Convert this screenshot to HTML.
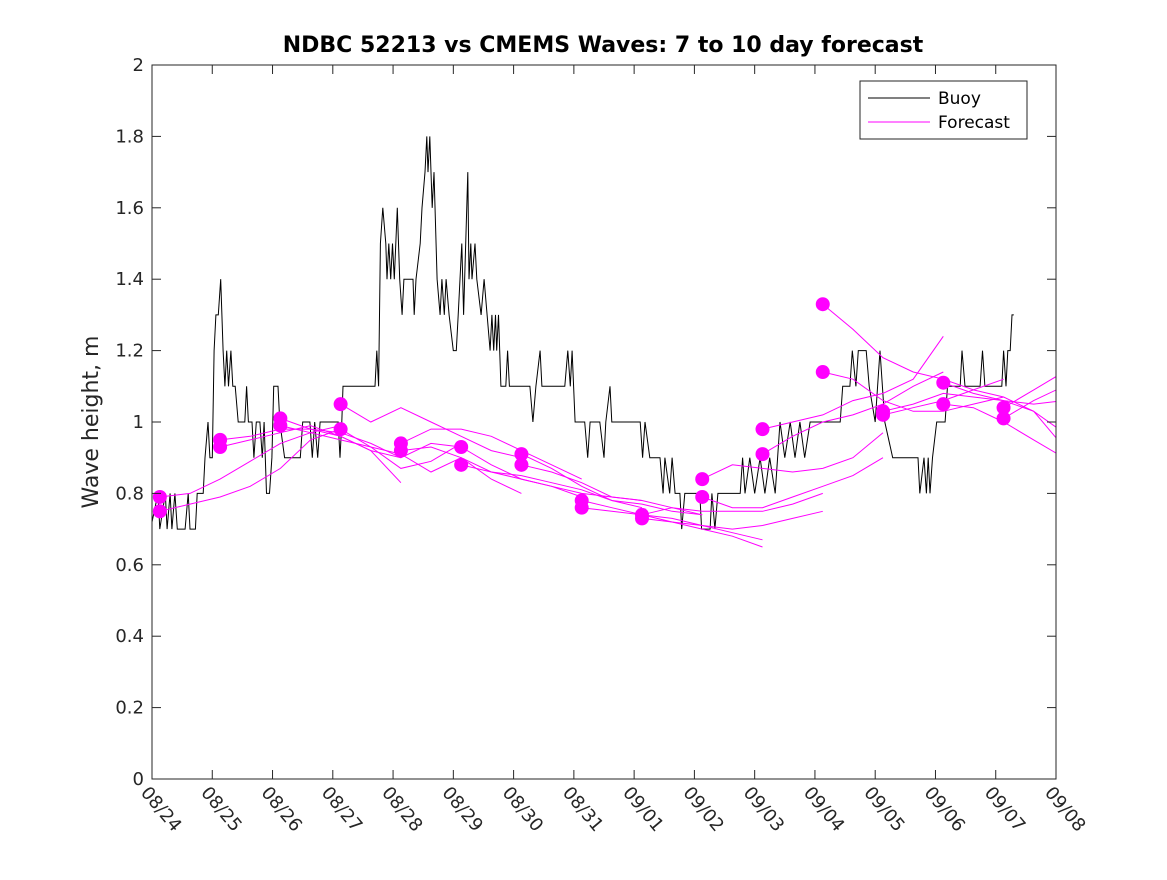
<!DOCTYPE html>
<html><head><meta charset="utf-8"><style>
body{margin:0;background:#fff}
svg{font-family:"DejaVu Sans","Liberation Sans",sans-serif}
</style></head><body>
<svg id="c" width="1167" height="875" viewBox="0 0 1167 875">
<rect width="1167" height="875" fill="#fff"/>
<rect x="152" y="65" width="904" height="714" fill="#fff"/>
<defs><clipPath id="clip"><rect x="152" y="65" width="904" height="714"/></clipPath></defs>
<g id="series" clip-path="url(#clip)"></g>
<rect x="152" y="65" width="904" height="714" fill="none" stroke="#262626" stroke-width="1"/>
<g id="axes"></g>
<text x="603" y="52" text-anchor="middle" font-size="22" font-weight="bold" fill="#000">NDBC 52213 vs CMEMS Waves: 7 to 10 day forecast</text>
<text transform="translate(98,422) rotate(-90)" text-anchor="middle" font-size="22" fill="#262626">Wave height, m</text>
<g>
<rect x="860" y="81" width="167" height="58" fill="#fff" stroke="#262626"/>
<line x1="868" y1="98" x2="930" y2="98" stroke="#000"/>
<text x="938" y="104" font-size="17" fill="#000">Buoy</text>
<line x1="868" y1="122" x2="930" y2="122" stroke="#f0f"/>
<text x="938" y="128" font-size="17" fill="#000">Forecast</text>
</g>
</svg>
<script>
const xTickLabels=["08/24","08/25","08/26","08/27","08/28","08/29","08/30","08/31","09/01","09/02","09/03","09/04","09/05","09/06","09/07","09/08"];
const yTicks=[0,0.2,0.4,0.6,0.8,1,1.2,1.4,1.6,1.8,2];
const buoyDays=[0,0.1,0.13,0.22,0.25,0.3,0.33,0.38,0.42,0.55,0.6,0.63,0.72,0.75,0.85,0.88,0.93,0.96,1.0,1.03,1.06,1.1,1.14,1.18,1.21,1.24,1.27,1.31,1.34,1.38,1.43,1.54,1.57,1.6,1.66,1.69,1.73,1.79,1.83,1.86,1.9,1.95,1.99,2.02,2.09,2.12,2.2,2.46,2.5,2.62,2.66,2.7,2.75,2.79,3.09,3.12,3.15,3.17,3.7,3.73,3.76,3.79,3.83,3.88,3.9,3.93,3.96,3.99,4.02,4.07,4.11,4.15,4.18,4.33,4.35,4.38,4.45,4.48,4.53,4.56,4.58,4.61,4.65,4.68,4.73,4.78,4.81,4.85,4.88,4.93,5.0,5.05,5.08,5.11,5.14,5.17,5.24,5.26,5.29,5.31,5.36,5.39,5.46,5.51,5.56,5.61,5.64,5.67,5.7,5.72,5.75,5.77,5.79,5.87,5.9,5.93,6.27,6.32,6.37,6.44,6.47,6.55,6.85,6.9,6.94,6.97,7.02,7.18,7.23,7.27,7.43,7.5,7.53,7.6,7.63,8.1,8.14,8.18,8.26,8.43,8.48,8.51,8.59,8.63,8.68,8.76,8.79,8.84,9.09,9.12,9.26,9.29,9.34,9.39,9.76,9.8,9.84,9.92,10.0,10.09,10.17,10.25,10.34,10.42,10.5,10.59,10.67,10.75,10.83,10.92,11.0,11.42,11.46,11.58,11.62,11.68,11.72,11.85,11.9,12.0,12.08,12.16,12.29,12.71,12.74,12.81,12.85,12.88,12.91,12.95,13.02,13.16,13.2,13.41,13.44,13.49,13.74,13.78,13.82,14.1,14.13,14.17,14.2,14.24,14.27,14.3];
const buoyValues=[0.72,0.8,0.7,0.8,0.7,0.8,0.7,0.8,0.7,0.7,0.8,0.7,0.7,0.8,0.8,0.9,1.0,0.9,0.9,1.2,1.3,1.3,1.4,1.2,1.1,1.2,1.1,1.2,1.1,1.1,1.0,1.0,1.1,1.0,1.0,0.9,1.0,1.0,0.9,1.0,0.8,0.8,0.9,1.1,1.1,1.0,0.9,0.9,1.0,1.0,0.9,1.0,0.9,1.0,1.0,0.9,1.0,1.1,1.1,1.2,1.1,1.5,1.6,1.5,1.4,1.5,1.4,1.5,1.4,1.6,1.4,1.3,1.4,1.4,1.3,1.4,1.5,1.6,1.7,1.8,1.7,1.8,1.6,1.7,1.4,1.3,1.4,1.3,1.4,1.3,1.2,1.2,1.3,1.4,1.5,1.3,1.7,1.4,1.5,1.4,1.5,1.4,1.3,1.4,1.3,1.2,1.3,1.2,1.3,1.2,1.3,1.2,1.1,1.1,1.2,1.1,1.1,1.0,1.1,1.2,1.1,1.1,1.1,1.2,1.1,1.2,1.0,1.0,0.9,1.0,1.0,0.9,1.0,1.1,1.0,1.0,0.9,1.0,0.9,0.9,0.8,0.9,0.8,0.9,0.8,0.8,0.7,0.8,0.8,0.7,0.7,0.8,0.7,0.8,0.8,0.9,0.8,0.9,0.8,0.9,0.8,0.9,0.8,1.0,0.9,1.0,0.9,1.0,0.9,1.0,1.0,1.0,1.1,1.1,1.2,1.1,1.2,1.2,1.1,1.0,1.2,1.0,0.9,0.9,0.8,0.9,0.8,0.9,0.8,0.9,1.0,1.0,1.1,1.1,1.2,1.1,1.1,1.2,1.1,1.1,1.2,1.1,1.2,1.2,1.3,1.3];
const forecastStartDays=[0.13,0.13,1.13,1.13,2.13,2.13,3.13,3.13,4.13,4.13,5.13,5.13,6.13,6.13,7.13,7.13,8.13,8.13,9.13,9.13,10.13,10.13,11.13,11.13,12.13,12.13,13.13,13.13,14.13,14.13];
const forecastValues=[
[0.79,0.80,0.84,0.89,0.94,0.97,0.99],[0.75,0.77,0.79,0.82,0.87,0.95,0.98],
[0.95,0.96,0.98,0.98,0.97,0.94,0.90],[0.93,0.95,0.97,0.99,0.96,0.92,0.83],
[1.01,0.98,0.96,0.92,0.90,0.94,0.93],[0.99,0.97,0.95,0.93,0.87,0.89,0.94],
[1.05,1.00,1.04,1.00,0.96,0.92,0.90],[0.98,0.93,0.91,0.86,0.90,0.84,0.80],
[0.94,0.98,0.98,0.96,0.92,0.88,0.84],[0.92,0.93,0.90,0.86,0.84,0.82,0.79],
[0.93,0.88,0.84,0.82,0.80,0.79,0.78],[0.88,0.86,0.85,0.83,0.81,0.78,0.76],
[0.91,0.87,0.82,0.78,0.77,0.75,0.74],[0.88,0.86,0.83,0.79,0.78,0.76,0.74],
[0.78,0.76,0.74,0.73,0.71,0.69,0.67],[0.76,0.75,0.74,0.72,0.70,0.68,0.65],
[0.74,0.76,0.75,0.75,0.75,0.77,0.80],[0.73,0.72,0.71,0.70,0.71,0.73,0.75],
[0.84,0.88,0.87,0.86,0.87,0.90,0.97],[0.79,0.76,0.76,0.79,0.82,0.85,0.90],
[0.98,1.00,1.02,1.06,1.08,1.12,1.24],[0.91,0.96,1.00,1.02,1.05,1.10,1.14],
[1.33,1.26,1.18,1.14,1.12,1.09,1.12],[1.14,1.12,1.06,1.03,1.03,1.05,1.07],
[1.03,1.05,1.08,1.07,1.06,1.03,0.97],[1.02,1.04,1.06,1.09,1.07,1.03,0.93],
[1.11,1.08,1.06,1.05,1.06,1.10,1.12],[1.05,1.04,1.00,0.95,0.90,0.85,0.83],
[1.04,1.09,1.14,1.18],[1.01,1.06,1.10,1.05]];
const forecastStep=0.5;

const NS="http://www.w3.org/2000/svg";
const X0=152,X1=1056,Y0=779,Y1=65;
const xScale=d=>X0+(X1-X0)*d/15;
const yScale=v=>Y0-(Y0-Y1)*v/2;
function mk(tag,attrs,parent){const e=document.createElementNS(NS,tag);for(const k in attrs)e.setAttribute(k,attrs[k]);parent.appendChild(e);return e;}
const axes=document.getElementById('axes'),series=document.getElementById('series');
yTicks.forEach(v=>{
  const y=yScale(v);
  const t1=mk('line',{x1:X0,y1:y,x2:X0+9,y2:y,stroke:'#262626'},axes);
  
  
  const t2=mk('line',{x1:X1,y1:y,x2:X1-9,y2:y,stroke:'#262626'},axes);
  
  
  const tx=mk('text',{x:X0-8,y:y+6,'text-anchor':'end','font-size':18,fill:'#262626'},axes);
  tx.textContent=String(v);
  
  
});
xTickLabels.forEach((lab,i)=>{
  const x=xScale(i);
  const t1=mk('line',{x1:x,y1:Y0,x2:x,y2:Y0-9,stroke:'#262626'},axes);
  
  
  const t2=mk('line',{x1:x,y1:Y1,x2:x,y2:Y1+9,stroke:'#262626'},axes);
  
  
  const tx=mk('text',{transform:`translate(${x-12},${Y0+14}) rotate(50)`,'font-size':18,fill:'#262626'},axes);
  tx.textContent=lab;
  
  
});
const bp=buoyDays.map((d,i)=>xScale(d).toFixed(1)+','+yScale(buoyValues[i]).toFixed(1)).join(' ');
const buoy=mk('polyline',{points:bp,fill:'none',stroke:'#000','stroke-width':1},series);


forecastValues.forEach((vals,i)=>{
  const s=forecastStartDays[i];
  const pts=vals.map((v,j)=>xScale(s+j*forecastStep).toFixed(1)+','+yScale(v).toFixed(1)).join(' ');
  const l=mk('polyline',{points:pts,fill:'none',stroke:'#f0f','stroke-width':1},series);
  
  
});
forecastValues.forEach((vals,i)=>{
  const c=mk('circle',{cx:xScale(forecastStartDays[i]),cy:yScale(vals[0]),r:7,fill:'#f0f'},series);
  
  
});
</script>
</body></html>
